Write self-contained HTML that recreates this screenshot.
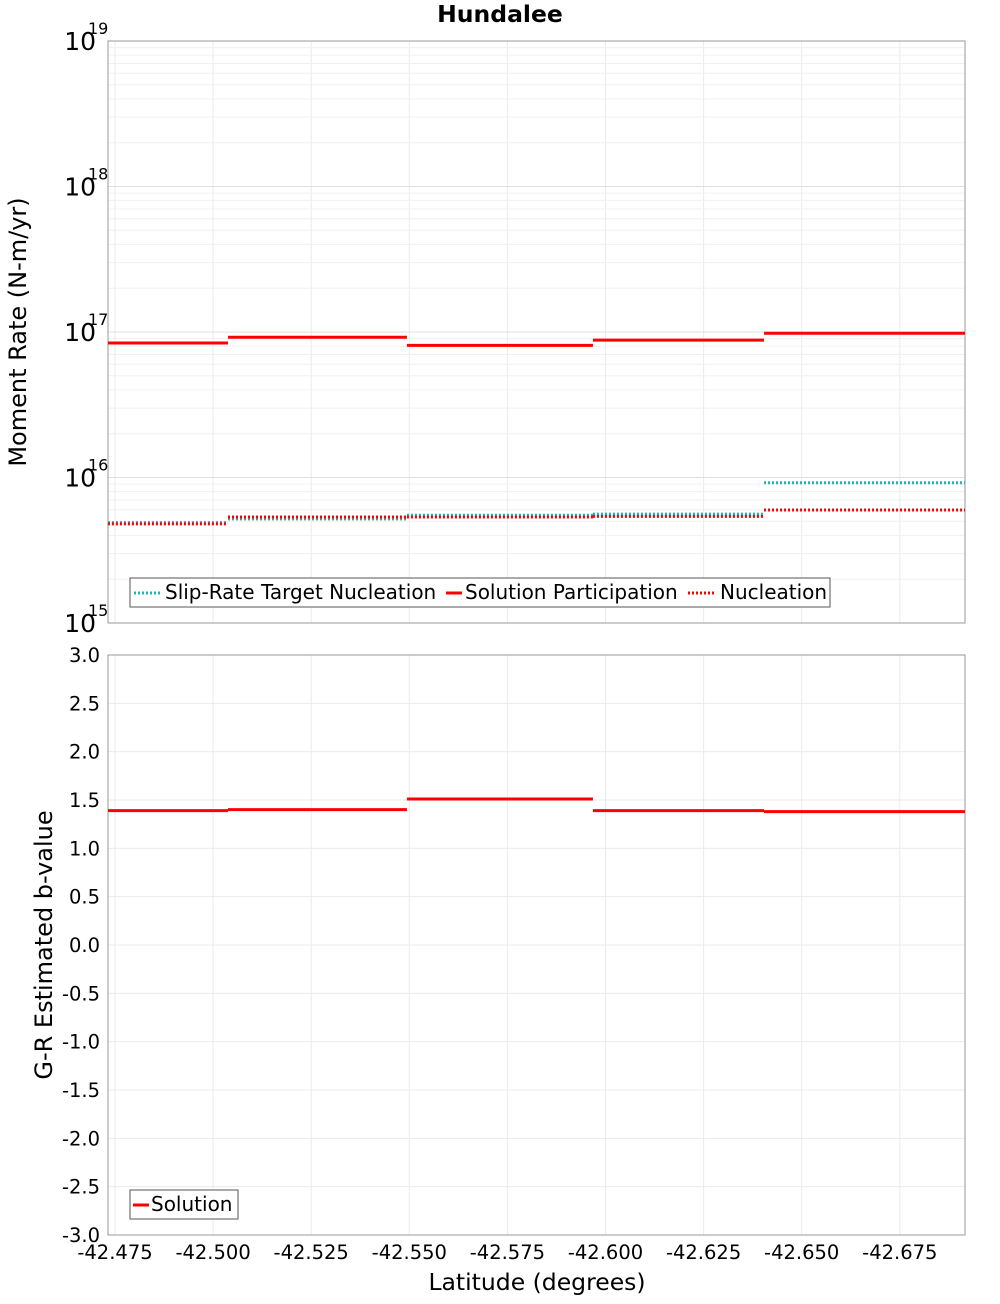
<!DOCTYPE html>
<html><head><meta charset="utf-8">
<style>body{margin:0;background:#fff;font-family:"DejaVu Sans","Liberation Sans",sans-serif;}</style>
</head><body>
<svg id="c" width="1000" height="1300" xmlns="http://www.w3.org/2000/svg" font-family="DejaVu Sans, Liberation Sans, sans-serif">
<text x="500" y="22" text-anchor="middle" font-size="23.5" font-weight="bold">Hundalee</text>
</svg>
<script>
const binEdges=[-42.4732,-42.5038,-42.5494,-42.5968,-42.6404,-42.6916];
const slipTarget=[4.9e15,5.2e15,5.5e15,5.6e15,9.2e15];
const solutionPart=[8.4e16,9.2e16,8.1e16,8.8e16,9.8e16];
const nucleation=[4.8e15,5.35e15,5.35e15,5.4e15,5.98e15];
const bValues=[1.39,1.40,1.51,1.39,1.38];
const xTicks=[-42.475,-42.500,-42.525,-42.550,-42.575,-42.600,-42.625,-42.650,-42.675];
const bTicks=[3.0,2.5,2.0,1.5,1.0,0.5,0.0,-0.5,-1.0,-1.5,-2.0,-2.5,-3.0];
const decades=[15,16,17,18,19];

const svg=document.getElementById('c');
const NS='http://www.w3.org/2000/svg';
const L=108,R=965,T1=41,B1=623,T2=655,B2=1235;
const xs=v=>115+(-42.475-v)/0.025*98.1;
const ys1=v=>B1-(Math.log10(v)-15)*(B1-T1)/4;
const ys2=v=>T2+(3-v)*(B2-T2)/6;
function el(tag,attrs,name,text){const e=document.createElementNS(NS,tag);for(const k in attrs)e.setAttribute(k,attrs[k]);


if(text!==undefined)e.textContent=text;svg.appendChild(e);return e;}
xTicks.forEach(t=>{const x=xs(t);
el('line',{x1:x,x2:x,y1:T1,y2:B1,stroke:'#ebebeb'},'top-x-grid');
el('line',{x1:x,x2:x,y1:T2,y2:B2,stroke:'#ebebeb'},'bottom-x-grid');
el('text',{x:x,y:1259,'text-anchor':'middle','font-size':19.5},'x-tick-label',t.toFixed(3));});
for(let d=15;d<19;d++){for(let m=1;m<10;m++){const y=ys1(m*Math.pow(10,d));
el('line',{x1:L,x2:R,y1:y,y2:y,stroke:m==1?'#e0e0e0':'#f0f0f0'},'top-y-grid');}}
decades.forEach(d=>{const y=ys1(Math.pow(10,d));
el('text',{x:96,y:y+9,'text-anchor':'end','font-size':25},'y-tick-label','10');
el('text',{x:88,y:y-7,'font-size':16},'y-tick-exponent',String(d));});
bTicks.forEach(t=>{const y=ys2(t);
el('line',{x1:L,x2:R,y1:y,y2:y,stroke:'#ebebeb'},'bottom-y-grid');
el('text',{x:100,y:y+7,'text-anchor':'end','font-size':19.5},'b-tick-label',t.toFixed(1));});
el('rect',{x:L,y:T1,width:R-L,height:B1-T1,fill:'none',stroke:'#999'},'top-plot-area');
el('rect',{x:L,y:T2,width:R-L,height:B2-T2,fill:'none',stroke:'#999'},'bottom-plot-area');
function steps(vals,ys,color,dash,w,name){vals.forEach((v,i)=>{
const a={x1:xs(binEdges[i]),x2:xs(binEdges[i+1]),y1:ys(v),y2:ys(v),stroke:color,'stroke-width':w};
if(dash)a['stroke-dasharray']=dash;el('line',a,name);});}
steps(slipTarget,ys1,'#1fb5b5','2,2',3,'slip-rate-target-segment');
steps(nucleation,ys1,'#ff0000','2,2',3,'nucleation-segment');
steps(solutionPart,ys1,'#ff0000',null,3,'solution-participation-segment');
steps(bValues,ys2,'#ff0000',null,3,'b-value-segment');
el('text',{x:26,y:332,'text-anchor':'middle','font-size':24,transform:'rotate(-90 26 332)'},'top-y-axis-title','Moment Rate (N-m/yr)');
el('text',{x:52,y:945,'text-anchor':'middle','font-size':24,transform:'rotate(-90 52 945)'},'bottom-y-axis-title','G-R Estimated b-value');
el('text',{x:537,y:1290,'text-anchor':'middle','font-size':23.5},'x-axis-title','Latitude (degrees)');
el('rect',{x:130,y:578,width:700,height:29,fill:'#fff',stroke:'#555'},'top-legend-box');
el('line',{x1:134,x2:160,y1:593,y2:593,stroke:'#1fb5b5','stroke-width':3,'stroke-dasharray':'2,2'},'legend-swatch-slip');
el('text',{x:165,y:599,'font-size':20},'legend-slip-rate-target','Slip-Rate Target Nucleation');
el('line',{x1:446,x2:462,y1:593,y2:593,stroke:'#f00','stroke-width':3},'legend-swatch-solution');
el('text',{x:465,y:599,'font-size':20},'legend-solution-participation','Solution Participation');
el('line',{x1:688,x2:716,y1:593,y2:593,stroke:'#f00','stroke-width':3,'stroke-dasharray':'2,2'},'legend-swatch-nucleation');
el('text',{x:720,y:599,'font-size':20},'legend-nucleation','Nucleation');
el('rect',{x:130,y:1190,width:108,height:29,fill:'#fff',stroke:'#555'},'bottom-legend-box');
el('line',{x1:133,x2:149,y1:1205,y2:1205,stroke:'#f00','stroke-width':3},'legend-swatch-b');
el('text',{x:151,y:1211,'font-size':20},'legend-solution','Solution');
</script>
</body></html>
